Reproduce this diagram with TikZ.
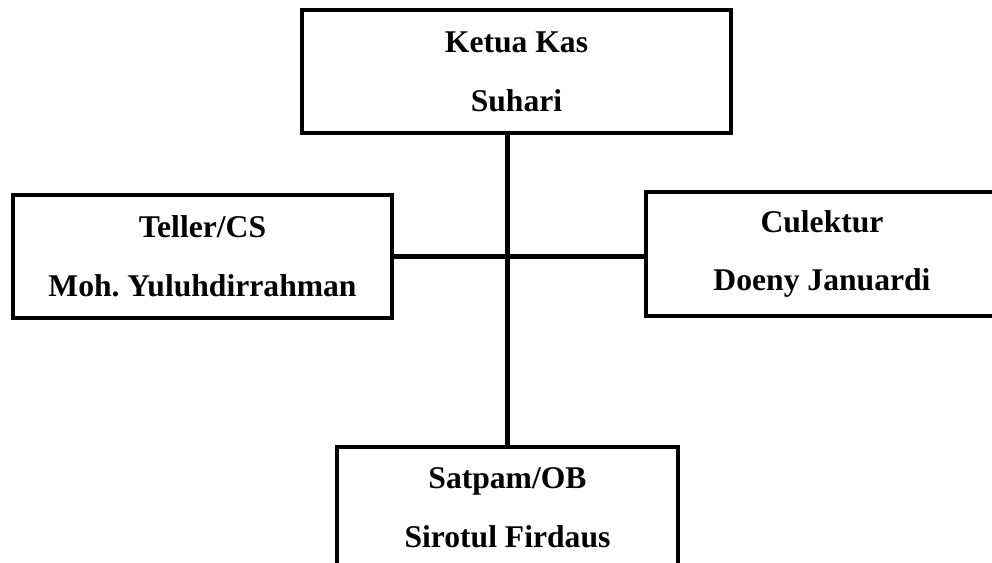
\documentclass[tikz,border=0pt]{standalone}
\usepackage{fontspec}
\setmainfont{Liberation Serif}

\begin{document}
\begin{tikzpicture}[x=0.02cm, y=-0.02cm,
  every node/.style={draw, line width=2pt, align=center, inner sep=0pt,
    font=\bfseries\fontsize{18}{33.5}\selectfont}]

\clip (0,0) rectangle (992,563);

% Nodes

\node[minimum width=8.58cm, minimum height=2.46cm] (K) at (516.5,71.5) {Ketua Kas\\Suhari};
\node[minimum width=7.58cm, minimum height=2.46cm] (T) at (202.5,256.5) {Teller/CS\\Moh.\ Yuluhdirrahman};
\node[minimum width=7.04cm, minimum height=2.48cm] (C) at (822,254) {Culektur\\Doeny Januardi};
\node[minimum width=6.82cm, minimum height=2.44cm] (S) at (507.5,508) {Satpam/OB\\Sirotul Firdaus};

% Edges
\draw[line width=2.6pt] (S.north |- K.south) -- (S.north);
\draw[line width=2.6pt] (T.east) -- (T.east -| C.west);

\end{tikzpicture}
\end{document}
